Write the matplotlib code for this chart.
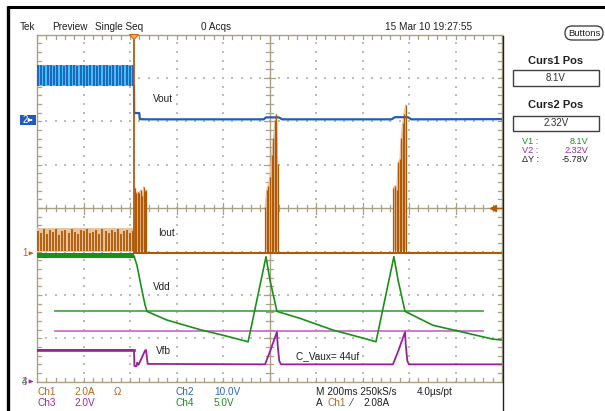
import numpy as np
import matplotlib
matplotlib.use("Agg")
import matplotlib.pyplot as plt
from matplotlib.patches import FancyBboxPatch, Rectangle, Polygon

plt.rcParams['font.family'] = ['Liberation Sans', 'DejaVu Sans']

# ---------------- acquisition settings ----------------
TIME_PER_DIV = 200.0          # ms / div, 10 divisions
CH1_SCALE, CH1_GND = 2.0, 2.97   # Iout  (A/div, ground in div)
CH2_SCALE, CH2_GND = 10.0, 6.0   # Vout  (V/div)
CH3_SCALE, CH3_GND = 2.0, 0.0    # Vfb   (V/div)
CH4_SCALE, CH4_GND = 5.0, 0.0    # Vdd   (V/div)
TRIG_TIME = 417.0                # ms from left edge
TRIG_LEVEL = 2.08                # A
CURS1 = 8.1                      # V (Ch4)
CURS2 = 2.32                     # V (Ch3)

# ---------------- waveforms ----------------
# Vdd (Ch4)
vdd_t = [0, 417, 430, 447, 465, 473, 559, 701, 808, 908, 985, 1002, 1032,
         1131, 1273, 1419, 1458, 1535, 1553, 1583, 1703, 1849, 1961, 2000]
vdd_v = [14.5, 14.5, 13.4, 11.1, 8.8, 8.1, 7.1, 6.0, 5.3, 4.6, 14.4, 11.7, 8.1,
         7.3, 5.95, 4.9, 4.6, 14.4, 11.7, 8.1, 6.5, 5.6, 4.9, 4.8]

# Vfb (Ch3)
vfb_t = [0, 417, 419, 428, 431, 437, 465, 469, 476, 981, 1004, 1032, 1035, 1042, 1050,
         1531, 1555, 1583, 1586, 1593, 1600, 2000]
vfb_v = [1.46, 1.46, 0.72, 0.72, 0.88, 0.78, 1.44, 1.46, 0.82, 0.80, 1.45, 2.29, 1.7, 0.95, 0.80,
         0.80, 1.45, 2.29, 1.7, 0.95, 0.80, 0.80]

# Vout (Ch2) after trigger
vout_t = [417, 418, 440, 442, 470, 975, 985, 1040, 1055, 1525, 1540, 1595, 1610, 2000]
vout_v = [8.1, 1.9, 1.9, 0.5, 0.45, 0.45, 0.9, 0.9, 0.45, 0.45, 0.95, 0.95, 0.45, 0.5]

# Vout (Ch2) before trigger: switching band
vout_pre_hi = [12.9, 13.0, 12.8, 13.0, 12.9, 12.7, 13.0, 12.9, 12.8, 13.0, 12.9, 13.0,
               12.8, 12.9, 13.0, 12.7, 12.9, 13.0, 12.8, 12.9, 13.0, 12.9, 12.8, 13.0,
               12.9, 12.7, 13.0, 12.9, 12.8, 13.0]
vout_pre_lo = [8.2, 8.3, 8.1, 8.4, 8.2, 8.3, 8.1, 8.2, 8.4, 8.2, 8.1, 8.3,
               8.2, 8.4, 8.1, 8.2, 8.3, 8.1, 8.2, 8.4, 8.2, 8.1, 8.3, 8.2,
               8.1, 8.3, 8.2, 8.4, 8.1, 8.2]

# Iout (Ch1) before trigger: switching pulses
iout_pre_pk = [1.0, 0.9, 1.1, 0.85, 1.05, 0.95, 1.1, 0.8, 1.0, 1.05, 0.9, 1.1,
               0.95, 0.85, 1.05, 1.0, 1.1, 0.9, 0.95, 1.05, 0.85, 1.1, 1.0, 0.9,
               1.05, 0.95, 1.1, 0.85, 1.0, 1.05, 0.9, 1.0]

# Iout bursts after trigger (time ms, peak A)
burst0_t = [421, 427, 433, 439, 446, 452, 459, 465, 469]
burst0_p = [3.0, 2.75, 2.8, 2.75, 2.9, 2.6, 3.05, 2.85, 2.9]
burst1_t = [981, 988, 995, 1002, 1010, 1017, 1024, 1030, 1035]
burst1_p = [2.1, 2.9, 3.1, 3.5, 4.5, 5.3, 6.1, 6.4, 4.1]
burst2_t = [1532, 1540, 1547, 1554, 1561, 1566, 1573, 1578, 1586]
burst2_p = [3.0, 3.1, 2.9, 4.2, 4.3, 5.3, 6.0, 6.4, 6.8]
TRIG_SPIKE = 11.0  # A, off screen

# ---------------- colours ----------------
C_GRAT = '#aaa184'
C_DOT = '#bdbdbd'
C_CH1, C_CH1L = '#b05a08', '#e9c39c'
C_CH2, C_CH2L = '#1f5cbc', '#3cc4ee'
C_CH3, C_CH3L = '#9a1f9a', '#cc70cc'
C_CH4, C_CH4L = '#1a901a', '#46ae46'
C_T1 = '#b8641a'
C_T2 = '#2f62c4'
C_T3 = '#a326a3'
C_T4 = '#238a23'

W, H = 605, 411
fig = plt.figure(figsize=(W / 100, H / 100), dpi=100)
fig.patch.set_facecolor('white')


def fx(x):
    return x / W


def fy(y):
    return 1 - y / H


X0, X1, Y0, Y1 = 37.0, 502.0, 34.5, 381.7
ax = fig.add_axes([fx(X0), fy(Y1), (X1 - X0) / W, (Y1 - Y0) / H])
XMAX = 10 * TIME_PER_DIV
ax.set_xlim(0, XMAX)
ax.set_ylim(0, 8)
ax.set_xticks([])
ax.set_yticks([])
for s in ax.spines.values():
    s.set_color(C_GRAT)
    s.set_linewidth(1.0)

# ---------------- graticule ----------------
sub_x = np.arange(0, XMAX + 1, TIME_PER_DIV / 5)
sub_y = np.arange(0, 8.001, 0.2)
tx = 4 / 46.5 * TIME_PER_DIV   # 4 px in ms
ty = 4 / 43.4                  # 4 px in div
# dotted division lines
for k in range(1, 10):
    if k == 5:
        continue
    ax.scatter(np.full_like(sub_y, k * TIME_PER_DIV), sub_y, s=1.0, marker='s',
               color=C_DOT, linewidths=0, zorder=1)
for k in range(1, 8):
    if k == 4:
        continue
    ax.scatter(sub_x, np.full_like(sub_x, k), s=1.0, marker='s',
               color=C_DOT, linewidths=0, zorder=1)
# centre crosshair
ax.axvline(XMAX / 2, color=C_GRAT, lw=1.0, zorder=1)
ax.axhline(4, color=C_GRAT, lw=1.0, zorder=1)
for x in sub_x:
    major = abs(x / TIME_PER_DIV - round(x / TIME_PER_DIV)) < 1e-6
    h = ty * (1.4 if major else 0.8)
    ax.plot([x, x], [4 - h, 4 + h], color=C_GRAT, lw=0.9, zorder=1)
    ax.plot([x, x], [0, ty], color=C_GRAT, lw=0.9, zorder=1)
    ax.plot([x, x], [8 - ty, 8], color=C_GRAT, lw=0.9, zorder=1)
for y in sub_y:
    major = abs(y - round(y)) < 1e-6
    w = tx * (1.4 if major else 0.8)
    ax.plot([XMAX / 2 - w, XMAX / 2 + w], [y, y], color=C_GRAT, lw=0.9, zorder=1)
    ax.plot([0, tx], [y, y], color=C_GRAT, lw=0.9, zorder=1)
    ax.plot([XMAX - tx, XMAX], [y, y], color=C_GRAT, lw=0.9, zorder=1)


def d1(a):
    return CH1_GND + np.asarray(a, float) / CH1_SCALE


def d2(a):
    return CH2_GND + np.asarray(a, float) / CH2_SCALE


def d3(a):
    return CH3_GND + np.asarray(a, float) / CH3_SCALE


def d4(a):
    return CH4_GND + np.asarray(a, float) / CH4_SCALE


# ---------------- cursors ----------------
cx0, cx1 = 77, 1918
ax.plot([cx0, cx1], [d4(CURS1)] * 2, color=C_CH4L, lw=1.3, zorder=2)
ax.plot([cx0, cx1], [d3(CURS2)] * 2, color=C_CH3L, lw=1.3, zorder=2)

# ---------------- Vout ----------------
pre_t = np.linspace(3, TRIG_TIME - 3, len(vout_pre_hi))
ax.fill_between([0, TRIG_TIME], d2(8.1), d2(13.0), color=C_CH2L, lw=0, zorder=3)
ax.vlines(pre_t, d2(vout_pre_lo), d2(vout_pre_hi), color=C_CH2, lw=1.3, zorder=3)
ax.plot(vout_t, d2(vout_v), color=C_CH2, lw=1.6, zorder=4)

# ---------------- Iout ----------------
ipre_t = np.linspace(3, TRIG_TIME - 3, len(iout_pre_pk))
ax.fill_between([0, TRIG_TIME], d1(0.05), d1(1.12), color=C_CH1L, lw=0, zorder=3)
ax.vlines(ipre_t, d1(0.1), d1(iout_pre_pk), color=C_CH1, lw=1.3, zorder=3)
ax.plot([TRIG_TIME, 2000], [d1(0), d1(0)], color=C_CH1, lw=1.5, zorder=3)
ax.plot([TRIG_TIME, TRIG_TIME], [d1(0), d1(TRIG_SPIKE)], color=C_CH1, lw=1.3, zorder=4)
for bt, bp in ((burst0_t, burst0_p), (burst1_t, burst1_p), (burst2_t, burst2_p)):
    bt = np.asarray(bt, float)
    ax.fill_between(bt, d1(0.15), d1(bp), color=C_CH1L, lw=0, zorder=3)
    ax.vlines(bt, d1(0.0), d1(bp), color=C_CH1, lw=0.9, zorder=4)
    ax.plot(bt, d1(bp), color=C_CH1L, lw=0.8, zorder=3)

# ---------------- Vdd / Vfb ----------------
ax.fill_between([0, TRIG_TIME], d4(14.3), d4(14.8), color=C_CH4, lw=0, zorder=4)
ax.plot(vdd_t, d4(vdd_v), color=C_CH4, lw=1.2, zorder=5)
ax.plot(vfb_t, d3(vfb_v), color=C_CH3, lw=1.3, zorder=5)
ax.plot([0, TRIG_TIME], [d3(1.46)] * 2, color=C_CH3, lw=1.9, zorder=5)

# ---------------- labels on screen ----------------
lab = dict(fontsize=7.2, color='#202020', va='center', ha='left', zorder=6)
ax.text(499, 6.51, 'Vout', **lab)
ax.text(520, 3.43, 'Iout', **lab)
ax.text(499, 2.18, 'Vdd', **lab)
ax.text(512, 0.70, 'Vfb', **lab)
ax.text(1114, 0.59, 'C_Vaux= 44uf', **lab)

# trigger level marker (right edge)
ax.plot([1960, XMAX], [d1(TRIG_LEVEL)] * 2, color=C_CH1, lw=1.0, zorder=6, clip_on=False)
ax.plot([1960], [d1(TRIG_LEVEL)], marker='<', ms=5, color=C_CH1, zorder=6, clip_on=False)

# ---------------- figure overlay ----------------
ov = fig.add_axes([0, 0, 1, 1], facecolor='none')
ov.set_xlim(0, W)
ov.set_ylim(H, 0)
ov.axis('off')

# frame
ov.plot([7, W], [7.2, 7.2], color='black', lw=2.2, solid_capstyle='butt')
ov.plot([7.8, 7.8], [6, H], color='black', lw=2.4, solid_capstyle='butt')
ov.plot([502.5, 502.5], [36, H], color='#202020', lw=1.0)

# trigger position marker
ov.add_patch(Polygon([[129.5, 34.5], [138.5, 34.5], [134, 39.5]], closed=True,
                     facecolor='#ffb060', edgecolor='#e06010', lw=0.8))

# channel ground markers
ov.add_patch(Rectangle((20, 114.5), 15.5, 10, facecolor=C_CH2, edgecolor='none'))
ov.text(25.5, 119.8, '2', color='white', fontsize=7, ha='center', va='center')
ov.annotate('', xy=(35, 120), xytext=(28.5, 120),
            arrowprops=dict(arrowstyle='-|>', color='white', lw=0.8, mutation_scale=5))
ov.text(25, 253.3, '1', color=C_T1, fontsize=7, ha='center', va='center')
ov.annotate('', xy=(36, 253.3), xytext=(28.5, 253.3),
            arrowprops=dict(arrowstyle='-|>', color=C_T1, lw=0.8, mutation_scale=5))
ov.text(24.5, 381.5, '4', color=C_T4, fontsize=7, ha='center', va='center')
ov.text(24.5, 381.5, '3', color=C_T3, fontsize=7, ha='center', va='center', alpha=0.7)
ov.annotate('', xy=(36, 381.5), xytext=(28.5, 381.5),
            arrowprops=dict(arrowstyle='-|>', color=C_T3, lw=0.8, mutation_scale=5))

# header
hd = dict(fontsize=7.2, color='#202020', va='center', ha='left')
ov.text(19.5, 26.5, 'Tek', **hd)
ov.text(52, 26.5, 'Preview', **hd)
ov.text(95, 26.5, 'Single Seq', **hd)
ov.text(201, 26.5, '0 Acqs', **hd)
ov.text(385, 26.5, '15 Mar 10 19:27:55', **hd)

# channel settings
ft = dict(fontsize=7.2, va='center', ha='left')
ov.text(37, 392, 'Ch1', color=C_T1, **ft)
ov.text(74, 392, f'{CH1_SCALE:.1f}A', color=C_T1, **ft)
ov.text(114, 392, 'Ω', color=C_T1, **ft)
ov.text(176, 392, 'Ch2', color=C_T2, **ft)
ov.text(214, 392, f'{CH2_SCALE:.1f}V', color=C_T2, **ft)
ov.text(37, 403, 'Ch3', color=C_T3, **ft)
ov.text(74, 403, f'{CH3_SCALE:.1f}V', color=C_T3, **ft)
ov.text(176, 403, 'Ch4', color=C_T4, **ft)
ov.text(214, 403, f'{CH4_SCALE:.1f}V', color=C_T4, **ft)
ov.text(316, 392, 'M 200ms 250kS/s', color='#202020', **ft)
ov.text(417, 392, '4.0µs/pt', color='#202020', **ft)
ov.text(316, 403, 'A', color='#202020', **ft)
ov.text(327, 403, 'Ch1', color=C_T1, **ft)
ov.text(350, 403, '⁄', color='#202020', **ft)
ov.text(363, 403, f'{TRIG_LEVEL:.2f}A', color='#202020', **ft)

# side menu
ov.add_patch(FancyBboxPatch((565, 26), 38, 14, boxstyle='round,pad=0,rounding_size=7',
                            facecolor='white', edgecolor='#303030', lw=0.9))
ov.text(584, 33, 'Buttons', fontsize=6.8, ha='center', va='center', color='#202020')
ov.text(556, 61.5, 'Curs1 Pos', fontsize=8, fontweight='bold', ha='center', va='center',
        color='#202020')
ov.add_patch(Rectangle((513, 70), 86, 16, facecolor='white', edgecolor='#404040', lw=1.0))
ov.text(556, 78, f'{CURS1:.1f}V', fontsize=7, ha='center', va='center', color='#303030')
ov.text(556, 104.5, 'Curs2 Pos', fontsize=8, fontweight='bold', ha='center', va='center',
        color='#202020')
ov.add_patch(Rectangle((513, 116), 86, 14.5, facecolor='white', edgecolor='#404040', lw=1.0))
ov.text(556, 123.3, f'{CURS2:.2f}V', fontsize=7, ha='center', va='center', color='#303030')
rd = dict(fontsize=6.6, va='center')
ov.text(522, 141, 'V1 :', color=C_T4, ha='left', **rd)
ov.text(588, 141, f'{CURS1:.1f}V', color=C_T4, ha='right', **rd)
ov.text(522, 150, 'V2 :', color=C_T3, ha='left', **rd)
ov.text(588, 150, f'{CURS2:.2f}V', color=C_T3, ha='right', **rd)
ov.text(522, 159, 'ΔY :', color='#202020', ha='left', **rd)
ov.text(588, 159, f'{CURS2 - CURS1:.2f}V', color='#202020', ha='right', **rd)

fig.savefig('out.png', dpi=100, facecolor='white')
